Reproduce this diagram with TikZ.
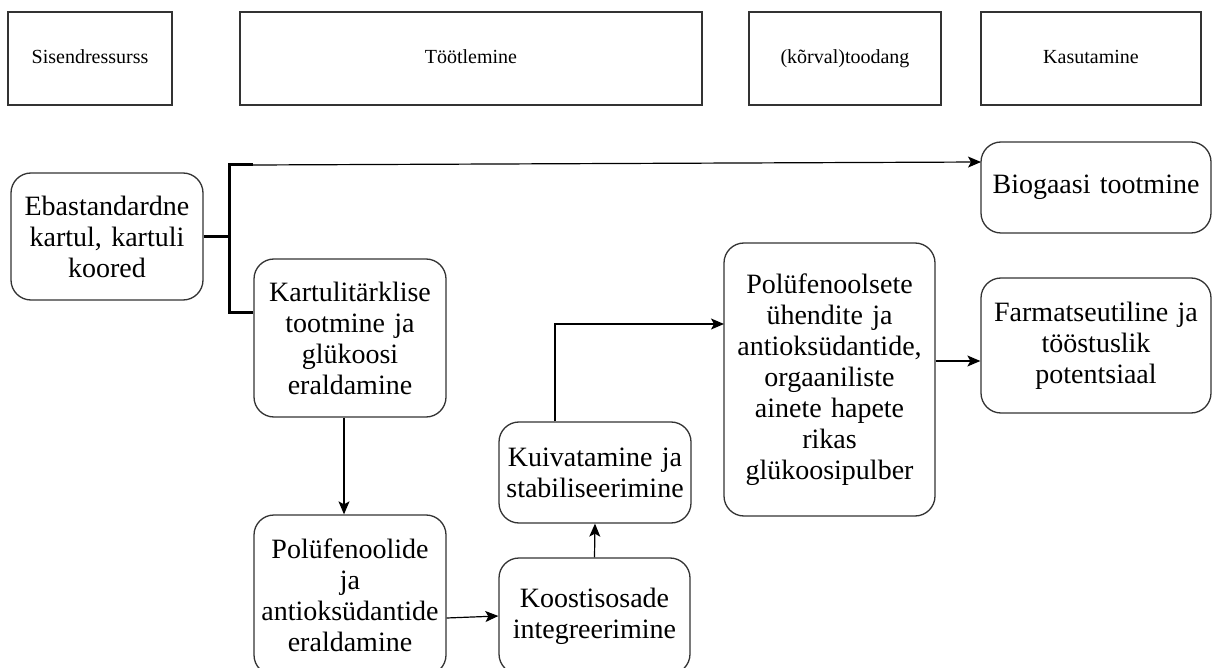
\documentclass[tikz,border=0pt]{standalone}
\usepackage{fontspec}
\setmainfont{Liberation Serif}
\usetikzlibrary{arrows.meta}
\definecolor{edge}{HTML}{333333}
\tikzset{
  header/.style={draw=edge, line width=1.3pt, rectangle, inner sep=0pt,
    text height=14pt, text depth=4pt,
    font=\fontsize{20}{24}\selectfont},
  step box/.style={draw=edge, line width=1.3pt, rectangle, rounded corners=20pt,
    inner sep=0pt, align=center, font=\fontsize{28}{31}\selectfont},
  flow/.style={draw=black, line width=1.2pt, -{Stealth[length=13pt,width=11pt,inset=3pt]}},
  bracket/.style={draw=black, line width=3pt}
}
\begin{document}
\begin{tikzpicture}[x=1pt, y=-1pt]
\useasboundingbox (0,0) rectangle (1213,668);
\clip (0,0) rectangle (1213,668);

% column headings
\node[header, minimum width=164pt, minimum height=93pt] (h1) at (90,58.5) {Sisendressurss};
\node[header, minimum width=462pt, minimum height=93pt] (h2) at (471,58.5) {Töötlemine};
\node[header, minimum width=192pt, minimum height=93pt] (h3) at (845,58.5) {(kõrval)toodang};
\node[header, minimum width=220pt, minimum height=93pt] (h4) at (1091,58.5) {Kasutamine};

% process steps
\node[step box, minimum width=192pt, minimum height=127pt, text width=188pt] (src) at (107,236.5)
  {Ebastandardne\\kartul, kartuli\\koored};
\node[step box, minimum width=230pt, minimum height=91pt, text width=226pt] (bio) at (1096,187.5)
  {Biogaasi tootmine};
\node[step box, minimum width=192pt, minimum height=158pt, text width=188pt] (starch) at (350,338)
  {Kartulitärklise\\tootmine ja\\glükoosi\\eraldamine};
\node[step box, minimum width=192pt, minimum height=160pt, text width=188pt] (poly) at (350,595)
  {Polüfenoolide\\ja\\antioksüdantide\\eraldamine};
\node[step box, minimum width=191pt, minimum height=116pt, text width=187pt] (integ) at (594.5,616)
  {Koostisosade\\integreerimine};
\node[step box, minimum width=192pt, minimum height=101pt, text width=188pt] (dry) at (595,472.5)
  {Kuivatamine ja\\stabiliseerimine};
\node[step box, minimum width=211pt, minimum height=273pt, text width=207pt] (prod) at (829.5,379.5)
  {Polüfenoolsete\\ühendite ja\\antioksüdantide,\\orgaaniliste\\ainete hapete\\rikas\\glükoosipulber};
\node[step box, minimum width=230pt, minimum height=135pt, text width=226pt] (pharm) at (1096,345.5)
  {Farmatseutiline ja\\tööstuslik\\potentsiaal};

% branching bracket from the raw material
\coordinate (jmid) at (229,236.5);
\coordinate (jtop) at (229,165);
\coordinate (jbot) at (229,313);
\coordinate (jtopend) at (253,165);
\coordinate (bioin) at (981,162);
\draw[bracket] (src.east) -- (jmid);
\draw[bracket] (jtopend) -- (jtop) -- (jbot) -- (starch.west |- jbot);
\draw[flow] (jtopend) -- (bioin);

% main processing chain
\draw[flow] ([xshift=-6pt]starch.south) -- ([xshift=-6pt]poly.north);
\draw[flow] ([yshift=-23pt]poly.east) -- (integ.west);
\draw[flow] (integ.north) -- (dry.south);
\coordinate (prodin) at (724,324);
\draw[flow] ([xshift=-40pt]dry.north) |- (prodin);
\draw[flow] ([yshift=18.5pt]prod.east) -- ([yshift=-15.5pt]pharm.west);
\end{tikzpicture}
\end{document}
